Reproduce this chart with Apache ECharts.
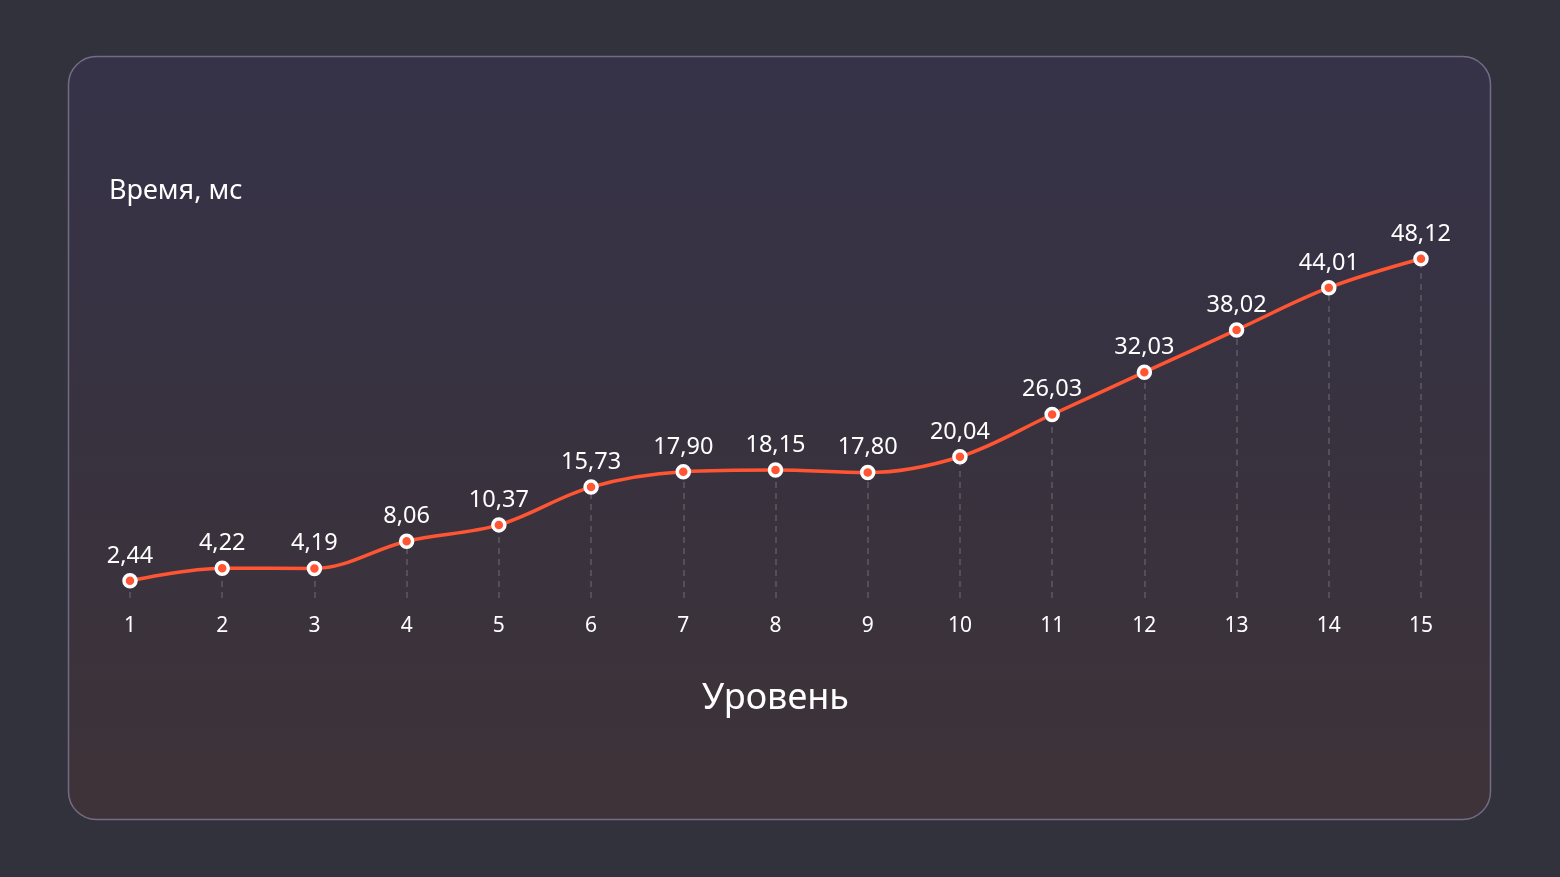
<!DOCTYPE html>
<html><head><meta charset="utf-8">
<script src="https://cdn.jsdelivr.net/npm/echarts@6/dist/echarts.min.js"></script>
<style>html,body{margin:0;padding:0;background:#32323c;}#c{width:1560px;height:877px;}</style>
</head><body><div id="c"></div>
<script>
const levels = ['1','2','3','4','5','6','7','8','9','10','11','12','13','14','15'];
const timesMs = [2.44, 4.22, 4.19, 8.06, 10.37, 15.73, 17.90, 18.15, 17.80, 20.04, 26.03, 32.03, 38.02, 44.01, 48.12];
const yTitle = 'Время, мс';
const xTitle = 'Уровень';

const font = '"Noto Sans", "Open Sans", sans-serif';
const chart = echarts.init(document.getElementById('c'));
chart.setOption({
  backgroundColor: '#32323c',
  animation: false,
  graphic: [{
    type: 'rect', z: -10, silent: true,
    shape: { x: 68.5, y: 56.5, width: 1422, height: 763, r: 28 },
    style: {
      fill: new echarts.graphic.LinearGradient(0, 0, 0, 1, [
        { offset: 0, color: '#363349' },
        { offset: 0.5, color: '#38323f' },
        { offset: 1, color: '#3e3338' }
      ]),
      stroke: '#746b86', lineWidth: 1.5
    }
  }],
  title: {
    text: yTitle, left: 104, top: 173,
    textStyle: { color: '#ffffff', fontSize: 27, fontWeight: 'normal', fontFamily: font }
  },
  grid: { left: 130, right: 139, top: 245.5, bottom: 279 },
  xAxis: {
    type: 'category', data: levels, boundaryGap: false,
    axisLine: { show: false }, axisTick: { show: false }, splitLine: { show: false },
    axisLabel: { color: '#ffffff', fontSize: 21, margin: 18, fontFamily: font },
    name: xTitle, nameLocation: 'middle', nameGap: 83,
    nameTextStyle: { color: '#ffffff', fontSize: 36, fontFamily: font }
  },
  yAxis: { type: 'value', min: 0, max: 50, show: false },
  series: [{
    type: 'line', data: timesMs, smooth: 0.35,
    lineStyle: { color: '#ff5533', width: 3.5 },
    symbol: 'circle', symbolSize: 12,
    itemStyle: { color: '#ff5533', borderColor: '#ffffff', borderWidth: 3.5 },
    label: {
      show: true, position: 'top', distance: 5, color: '#ffffff', fontSize: 23.5, fontFamily: font,
      formatter: p => p.value.toFixed(2).replace('.', ',')
    },
    markLine: {
      silent: true, symbol: 'none', label: { show: false },
      lineStyle: { color: '#5e5b64', type: [6, 5], width: 1.5 },
      data: timesMs.map((v, i) => [{ coord: [i, 0] }, { coord: [i, v] }]),
      z: 1
    },
    z: 3
  }]
});
</script></body></html>
